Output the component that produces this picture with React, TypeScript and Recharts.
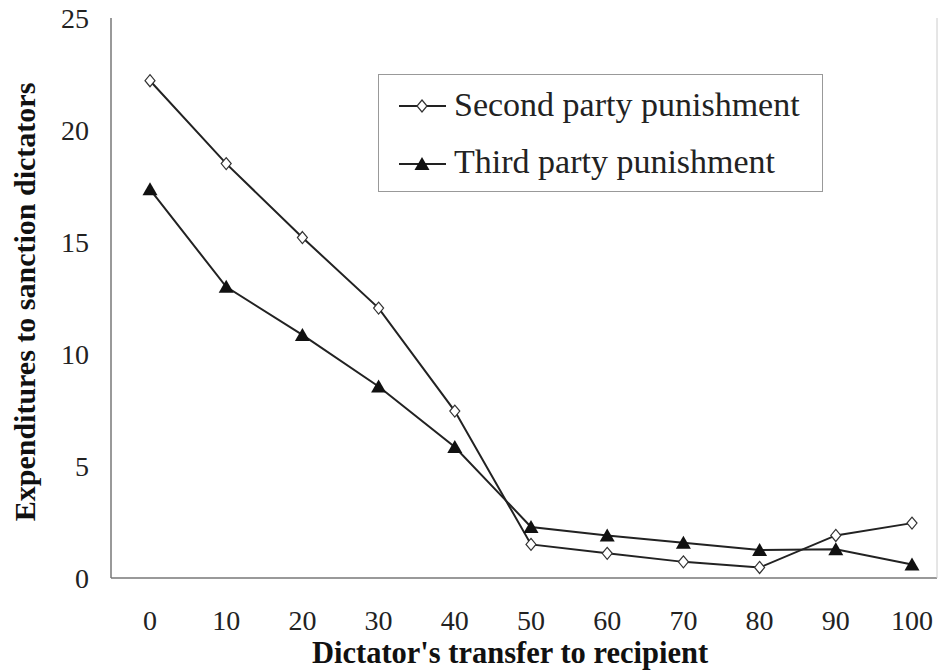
import React from 'react';
import { LineChart, Line, XAxis, YAxis, Legend } from 'recharts';

const transfers = ['0', '10', '20', '30', '40', '50', '60', '70', '80', '90', '100'];
const secondParty = [22.2, 18.5, 15.2, 12.05, 7.45, 1.5, 1.1, 0.72, 0.47, 1.9, 2.45];
const thirdParty = [17.35, 13.0, 10.85, 8.55, 5.85, 2.28, 1.9, 1.57, 1.25, 1.28, 0.6];
const yTicks = [0, 5, 10, 15, 20, 25];
const seriesNames = ['Second party punishment', 'Third party punishment'];

const data = transfers.map((t, i) => ({ transfer: t, second: secondParty[i], third: thirdParty[i] }));

const serif = 'Liberation Serif, DejaVu Serif, serif';
const ink = '#222';

const Diamond = (props: any) => {
  const { cx, cy, index } = props;
  if (cx == null || cy == null) return <g key={index} />;
  return (
    <path
      key={index}
      d={`M${cx},${cy - 6} L${cx + 5},${cy} L${cx},${cy + 6} L${cx - 5},${cy} Z`}
      fill="#fff"
      stroke="#333"
      strokeWidth={1.2}
    />
  );
};

const Triangle = (props: any) => {
  const { cx, cy, index } = props;
  if (cx == null || cy == null) return <g key={index} />;
  return (
    <path
      key={index}
      d={`M${cx},${cy - 7} L${cx + 7.5},${cy + 6} L${cx - 7.5},${cy + 6} Z`}
      fill="#111"
    />
  );
};

const LegendBox = () => (
  <div style={{ width: 445, height: 118, border: '1px solid #999', boxSizing: 'border-box', background: '#fff' }}>
    <svg width={443} height={116} style={{ fontFamily: serif }}>
      <line x1={20} x2={67} y1={31} y2={31} stroke={ink} strokeWidth={2} />
      <path d="M43,25 L48,31 L43,37 L38,31 Z" fill="#fff" stroke="#333" strokeWidth={1.2} />
      <text x={75} y={41} style={{ fontFamily: serif }} fontSize={34} fill={ink}>{seriesNames[0]}</text>
      <line x1={20} x2={67} y1={89} y2={89} stroke={ink} strokeWidth={2} />
      <path d="M43,82 L50.5,95 L35.5,95 Z" fill="#111" />
      <text x={75} y={98} style={{ fontFamily: serif }} fontSize={34} fill={ink}>{seriesNames[1]}</text>
    </svg>
  </div>
);

const XTitle = () => (
  <text x={510} y={663} textAnchor="middle" style={{ fontFamily: serif }} fontWeight="bold" fontSize={30.5} fill="#111">
    Dictator's transfer to recipient
  </text>
);

const YTitle = () => (
  <text
    x={0}
    y={0}
    transform="translate(35,302) rotate(-90)"
    textAnchor="middle"
    style={{ fontFamily: serif }}
    fontWeight="bold"
    fontSize={30}
    fill="#111"
  >
    Expenditures to sanction dictators
  </text>
);

export default function App() {
  return (
    <div style={{ position: 'absolute', left: 0, top: 0, background: '#fff', fontFamily: serif }}>
      <LineChart width={939} height={670} data={data} margin={{ top: 18, right: 0, left: 0, bottom: 0 }} style={{ fontFamily: serif }}>
        <XAxis
          xAxisId="bottom"
          dataKey="transfer"
          height={92}
          padding={{ left: 39, right: 25 }}
          tickSize={0}
          tickMargin={32}
          axisLine={{ stroke: '#777', strokeWidth: 1.5 }}
          tick={{ fontFamily: serif, fontSize: 28, fill: ink }}
          label={{ content: XTitle }}
        />
        <XAxis
          xAxisId="top"
          dataKey="transfer"
          orientation="top"
          height={0}
          tick={false}
          tickLine={false}
          axisLine={{ stroke: '#ccc' }}
        />
        <YAxis
          yAxisId="left"
          width={111}
          domain={[0, 25]}
          ticks={yTicks}
          tickSize={0}
          tickMargin={22}
          axisLine={{ stroke: '#777', strokeWidth: 1.5 }}
          tick={{ fontFamily: serif, fontSize: 28, fill: ink }}
          label={{ content: YTitle }}
        />
        <YAxis
          yAxisId="right"
          orientation="right"
          width={2}
          domain={[0, 25]}
          tick={false}
          tickLine={false}
          axisLine={{ stroke: '#ccc' }}
        />
        <Legend
          layout="vertical"
          align="center"
          verticalAlign="middle"
          content={LegendBox}
          wrapperStyle={{ left: 378, top: 74, width: 445, height: 118 }}
        />
        <Line
          xAxisId="bottom"
          yAxisId="left"
          dataKey="second"
          name={seriesNames[0]}
          stroke={ink}
          strokeWidth={2}
          dot={Diamond}
          activeDot={false}
          isAnimationActive={false}
        />
        <Line
          xAxisId="bottom"
          yAxisId="left"
          dataKey="third"
          name={seriesNames[1]}
          stroke={ink}
          strokeWidth={2}
          dot={Triangle}
          activeDot={false}
          isAnimationActive={false}
        />
      </LineChart>
    </div>
  );
}
